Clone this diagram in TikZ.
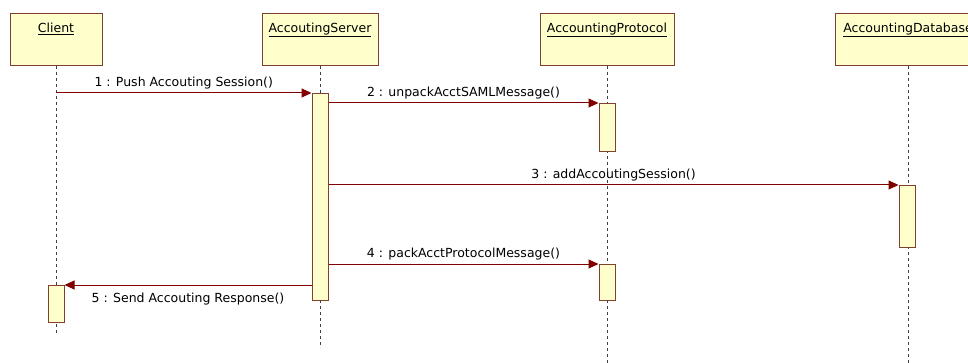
\documentclass[tikz,border=0pt]{standalone}
\usepackage{fontspec}
\setmainfont{DejaVu Sans}
\usepackage{tikz}
\usetikzlibrary{arrows.meta}
\definecolor{objfill}{RGB}{255,255,204}
\definecolor{objline}{RGB}{128,64,48}
\definecolor{msgline}{RGB}{128,0,0}

\begin{document}
\begin{tikzpicture}[x=1pt,y=-1pt,
                    every path/.style={>={Triangle[length=10pt,width=9pt]}},
                    every node/.style={font=\fontsize{12.5}{14}\selectfont},
                    object/.style={draw=objline,fill=objfill,line width=1pt,anchor=north,
                                   inner xsep=0pt,inner ysep=7pt,text height=12pt,text depth=26pt},
                    act/.style={draw=objline,fill=objfill,line width=1pt,anchor=north,
                                inner sep=0pt,minimum width=16pt},
                    life/.style={line width=1pt,black!75,dash pattern=on 3pt off 3pt},
                    msg/.style={->,draw=msgline,line width=1pt}]
  \useasboundingbox (0,0) rectangle (968,363);
  \clip (0,0) rectangle (968,363);
  % objects
  \node[object,minimum width=92pt]  (client) at (56,13)  {\underline{Client}};
  \node[object,minimum width=116pt] (server) at (320,13) {\underline{AccoutingServer}};
  \node[object,minimum width=134pt] (proto)  at (607,13) {\underline{AccountingProtocol}};
  \node[object,minimum width=146pt] (dbase)  at (908,13) {\underline{AccountingDatabase}};
  \coordinate (clientend) at (56,335);
  \coordinate (serverend) at (320,348);
  \coordinate (protoend)  at (607,363);
  \coordinate (dbaseend)  at (908,363);
  \draw[life] (client.south) -- (clientend);
  \draw[life] (server.south) -- (serverend);
  \draw[life] (proto.south) -- (protoend);
  \draw[life] (dbase.south) -- (dbaseend);
  % activations
  \node[act,minimum height=207pt] (sact)  at (320,93)  {};
  \node[act,minimum height=48pt]  (pact1) at (607,103) {};
  \node[act,minimum height=62pt]  (dact)  at (907,185) {};
  \node[act,minimum height=36pt]  (pact2) at (607,264) {};
  \node[act,minimum height=37pt]  (cact)  at (56,285)  {};
  % messages
  \draw[msg] (client.south |- sact.north) -- (sact.north west)
        node[midway,above] {1 : Push Accouting Session()};
  \draw[msg] (sact.east |- pact1.north) -- (pact1.north west)
        node[midway,above] {2 : unpackAcctSAMLMessage()};
  \draw[msg] (sact.east |- dact.north) -- (dact.north west)
        node[midway,above] {3 : addAccoutingSession()};
  \draw[msg] (sact.east |- pact2.north) -- (pact2.north west)
        node[midway,above] {4 : packAcctProtocolMessage()};
  \draw[msg] (sact.west |- cact.north) -- (cact.north east)
        node[midway,below=4pt] {5 : Send Accouting Response()};
\end{tikzpicture}
\end{document}
